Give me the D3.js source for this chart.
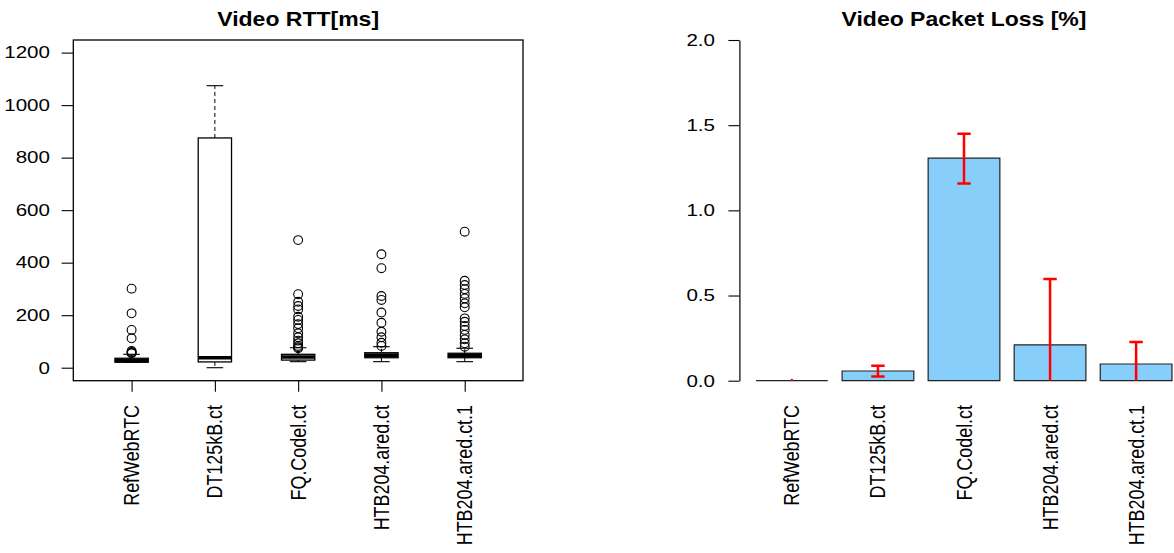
<!DOCTYPE html>
<html>
<head>
<meta charset="utf-8">
<script src="https://cdn.jsdelivr.net/npm/d3@7"></script>
<style>
html,body{margin:0;padding:0;background:#fff;}
svg{display:block;font-family:"Liberation Sans",Arial,Helvetica,sans-serif;}
</style>
</head>
<body>
<svg id="chart" width="1174" height="553"></svg>
<script>
// ---- data ----
const categories = ["RefWebRTC","DT125kB.ct","FQ.Codel.ct","HTB204.ared.ct","HTB204.ared.ct.1"];
const rttTicks = [0,200,400,600,800,1000,1200];
const rttLowWhisker = [20, 0, 23, 23, 23];
const rttQ1 = [21, 22, 29, 38, 38];
const rttMedian = [27, 38, 41, 48, 47];
const rttQ3 = [36, 875, 51, 57, 55];
const rttHighWhisker = [51, 1074, 76, 80, 74];
const rttOutliers = [
  [301, 207, 144, 112, 64, 60, 57, 55],
  [],
  [486, 280, 251, 235, 222, 194, 182, 166, 150, 131, 116, 103, 93, 83, 78, 74],
  [432, 379, 273, 258, 210, 171, 137, 116, 95, 83],
  [518, 331, 315, 299, 281, 264, 245, 230, 188, 175, 159, 144, 125, 108, 93, 80]
];
const lossTicks = [0, 0.5, 1.0, 1.5, 2.0];
const lossMean = [0, 0.057, 1.306, 0.21, 0.098];
const lossLow  = [0, 0.024, 1.157, -0.177, -0.031];
const lossHigh = [0, 0.088, 1.450, 0.597, 0.227];

const svg = d3.select("#chart");
const FS = 16.6;      // tick label font size
const SX = 1.24;      // horizontal stretch of the original raster
const FSX = 17.9;     // rotated category label font size

function hText(g, x, y, txt, anchor, size, bold){
  return g.append("text")
    .attr("transform",`translate(${x},${y}) scale(${SX},1)`)
    .attr("text-anchor",anchor).attr("dy","0.35em")
    .attr("font-size",size).attr("font-weight",bold?"bold":"normal")
    .attr("fill","#000").text(txt);
}
function vText(g, x, y, txt){
  return g.append("text")
    .attr("transform",`translate(${x},${y}) scale(1.2,1) rotate(-90)`)
    .attr("text-anchor","end").attr("dy","0.35em")
    .attr("font-size",FSX).attr("fill","#000").text(txt);
}

// ================= Left: box plot =================
const L = {left:73.3, right:523, top:40, bottom:380.7};
const xL = d3.scaleLinear().domain([0.3, 5.7]).range([L.left, L.right]);
const yL = d3.scaleLinear().domain([-49.5, 1248]).range([L.bottom, L.top]);
const gL = svg.append("g");

gL.append("text").attr("transform",`translate(${(L.left+L.right)/2},26) scale(1.18,1)`)
  .attr("text-anchor","middle").attr("font-weight","bold").attr("font-size",19.5)
  .text("Video RTT[ms]");

const boxW = (xL(1.4)-xL(1))/2;
categories.forEach((c,i)=>{
  const cx = xL(i+1);
  const g = gL.append("g");
  const dash = "4,3";
  g.append("line").attr("x1",cx).attr("x2",cx).attr("y1",yL(rttQ3[i])).attr("y2",yL(rttHighWhisker[i]))
    .attr("stroke","#000").attr("stroke-dasharray",dash);
  g.append("line").attr("x1",cx).attr("x2",cx).attr("y1",yL(rttQ1[i])).attr("y2",yL(rttLowWhisker[i]))
    .attr("stroke","#000").attr("stroke-dasharray",dash);
  [rttHighWhisker[i], rttLowWhisker[i]].forEach(v=>{
    g.append("line").attr("x1",cx-boxW/2).attr("x2",cx+boxW/2).attr("y1",yL(v)).attr("y2",yL(v))
      .attr("stroke","#000").attr("stroke-width",1.1);
  });
  g.append("rect").attr("x",cx-boxW).attr("width",2*boxW)
    .attr("y",yL(rttQ3[i])).attr("height",yL(rttQ1[i])-yL(rttQ3[i]))
    .attr("fill","#fff").attr("stroke","#000").attr("stroke-width",1.3);
  g.append("line").attr("x1",cx-boxW).attr("x2",cx+boxW).attr("y1",yL(rttMedian[i])).attr("y2",yL(rttMedian[i]))
    .attr("stroke","#000").attr("stroke-width",3.6);
  g.selectAll("circle.o").data(rttOutliers[i]).enter().append("circle")
    .attr("cx",cx).attr("cy",d=>yL(d)).attr("r",4.4)
    .attr("fill","none").attr("stroke","#000").attr("stroke-width",1.1);
});

gL.append("rect").attr("x",L.left).attr("y",L.top).attr("width",L.right-L.left).attr("height",L.bottom-L.top)
  .attr("fill","none").attr("stroke","#000").attr("stroke-width",1.3);

// y axis (ticks via d3 axis, labels drawn stretched)
const axL = gL.append("g").attr("transform",`translate(${L.left},0)`)
  .call(d3.axisLeft(yL).tickValues(rttTicks).tickFormat("").tickSize(11.7));
axL.select(".domain").remove();
axL.selectAll("line").attr("stroke","#000").attr("stroke-width",1.1);
rttTicks.forEach(t=>hText(gL, 50, yL(t), d3.format("d")(t), "end", FS, false));

// x axis
const axLx = gL.append("g").attr("transform",`translate(0,${L.bottom})`)
  .call(d3.axisBottom(xL).tickValues([1,2,3,4,5]).tickFormat("").tickSize(11));
axLx.select(".domain").remove();
axLx.selectAll("line").attr("stroke","#000").attr("stroke-width",1.1);
categories.forEach((c,i)=>vText(gL, xL(i+1), 405, c));

// ================= Right: bar plot =================
const R = {left:739.4, right:1188.6, top:40, bottom:380.7};
const xR = d3.scaleLinear().domain([-0.032, 6.232]).range([R.left, R.right]);
const yR = d3.scaleLinear().domain([0, 2]).range([R.bottom, R.top]);
const gR = svg.append("g");

svg.append("defs").append("clipPath").attr("id","clipR").append("rect")
  .attr("x",R.left).attr("y",R.top-2).attr("width",R.right-R.left).attr("height",R.bottom-R.top+2);

gR.append("text").attr("transform",`translate(${(R.left+R.right)/2},26) scale(1.18,1)`)
  .attr("text-anchor","middle").attr("font-weight","bold").attr("font-size",19.5)
  .text("Video Packet Loss [%]");

const barStart = i => 0.2 + 1.2*i;
gR.selectAll("path.bar").data(lossMean).enter().append("path")
  .attr("d",(d,i)=>{
    const x0 = xR(barStart(i)), x1 = xR(barStart(i)+1), y0 = yR(0), y1 = yR(d);
    return `M${x0},${y0}H${x1}V${y1}H${x0}Z`;
  })
  .attr("fill","#87CEFA").attr("stroke","#222").attr("stroke-width",1.2);

const gE = gR.append("g").attr("clip-path","url(#clipR)");
const capW = 6.7;
lossMean.forEach((m,i)=>{
  const cx = xR(barStart(i)+0.5);
  if (lossHigh[i]-lossLow[i] < 1e-6) {
    gE.append("circle").attr("cx",cx).attr("cy",yR(m)-0.8).attr("r",1.2).attr("fill","#ff0000");
    return;
  }
  gE.append("line").attr("x1",cx).attr("x2",cx).attr("y1",yR(lossHigh[i])).attr("y2",yR(lossLow[i]))
    .attr("stroke","#ff0000").attr("stroke-width",2.5);
  [lossHigh[i], lossLow[i]].forEach(v=>{
    gE.append("line").attr("x1",cx-capW).attr("x2",cx+capW).attr("y1",yR(v)).attr("y2",yR(v))
      .attr("stroke","#ff0000").attr("stroke-width",2.5);
  });
});

const axR = gR.append("g").attr("transform",`translate(${R.left},0)`)
  .call(d3.axisLeft(yR).tickValues(lossTicks).tickFormat("").tickSize(11).tickSizeOuter(0));
axR.select(".domain").attr("stroke","#000").attr("stroke-width",1.2);
axR.selectAll("line").attr("stroke","#000").attr("stroke-width",1.1);
lossTicks.forEach(t=>hText(gR, 715, yR(t), d3.format(".1f")(t), "end", FS, false));

categories.forEach((c,i)=>vText(gR, xR(barStart(i)+0.5), 405, c));
</script>
</body>
</html>
